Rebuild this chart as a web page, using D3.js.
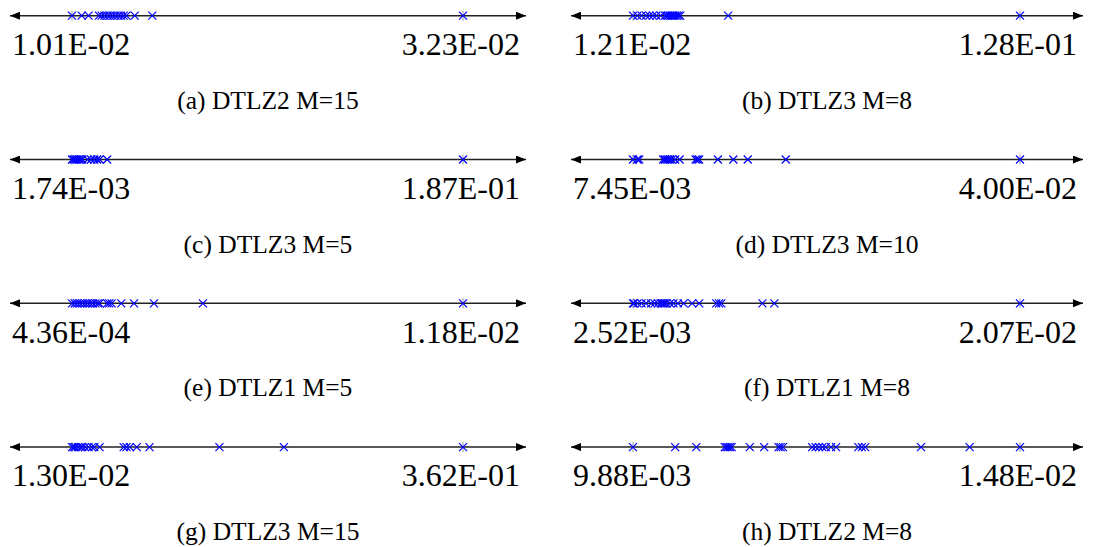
<!DOCTYPE html>
<html>
<head>
<meta charset="utf-8">
<script src="https://cdn.jsdelivr.net/npm/d3@7"></script>
<style>
  html, body { margin: 0; padding: 0; background: #fff; }
  svg { display: block; }
  text { font-family: "Liberation Serif", "Times New Roman", "DejaVu Serif", serif; fill: #000; }
</style>
</head>
<body>
<svg id="chart" width="1093" height="547"></svg>
<script>
// Panel captions, in reading order (left column, right column, row by row)
const captions = [
  "(a) DTLZ2 M=15", "(b) DTLZ3 M=8",
  "(c) DTLZ3 M=5",  "(d) DTLZ3 M=10",
  "(e) DTLZ1 M=5",  "(f) DTLZ1 M=8",
  "(g) DTLZ3 M=15", "(h) DTLZ2 M=8"
];

// Minimum and maximum of each run set (end labels of each line)
const lows  = [1.01e-2, 1.21e-2, 1.74e-3, 7.45e-3, 4.36e-4, 2.52e-3, 1.30e-2, 9.88e-3];
const highs = [3.23e-2, 1.28e-1, 1.87e-1, 4.00e-2, 1.18e-2, 2.07e-2, 3.62e-1, 1.48e-2];

// Per-run indicator values
const dtlz2M15 = [0.01010, 0.01065, 0.01104, 0.01163, 0.01178, 0.01194, 0.01210, 0.01225,
  0.01241, 0.01256, 0.01272, 0.01288, 0.01303, 0.01319, 0.01366, 0.01466, 0.0323];
const dtlz3M8 = [0.0121, 0.01343, 0.01466, 0.0160, 0.01702, 0.01805, 0.01908, 0.02041,
  0.02164, 0.02215, 0.02266, 0.02318, 0.02369, 0.0242, 0.02472, 0.02523, 0.02574,
  0.02625, 0.04061, 0.128];
const dtlz3M5 = [0.00174, 0.00256, 0.00337, 0.00419, 0.00500, 0.00582, 0.00664, 0.00908,
  0.01072, 0.01235, 0.01366, 0.0148, 0.01839, 0.187];
const dtlz3M10 = [0.00745, 0.00782, 0.00797, 0.00999, 0.01013, 0.01027, 0.01042, 0.01056,
  0.01071, 0.01099, 0.01137, 0.01272, 0.01287, 0.01301, 0.01459, 0.01589, 0.0171,
  0.0203, 0.0400];
const dtlz1M5 = [0.000436, 0.000516, 0.000586, 0.000666, 0.000736, 0.000816, 0.000887,
  0.000957, 0.001037, 0.001117, 0.001187, 0.001237, 0.001457, 0.001517, 0.001587,
  0.001868, 0.002238, 0.002819, 0.004241, 0.0118];
const dtlz1M8 = [0.00252, 0.00257, 0.00273, 0.00292, 0.00313, 0.00337, 0.00353, 0.00369,
  0.00382, 0.00389, 0.00395, 0.00402, 0.0041, 0.00426, 0.00442, 0.00463, 0.0049,
  0.0053, 0.00563, 0.00643, 0.00656, 0.00667, 0.0086, 0.00916, 0.0207];
const dtlz3M15 = [0.013, 0.01454, 0.01607, 0.01853, 0.02069, 0.02222, 0.02468, 0.02776,
  0.03083, 0.03299, 0.0376, 0.05912, 0.06158, 0.06466, 0.07081, 0.08219, 0.1446,
  0.2021, 0.362];
const dtlz2M8 = [0.00988, 0.010416, 0.010685, 0.011047, 0.011069, 0.01109, 0.011112,
  0.011134, 0.011365, 0.011548, 0.01173, 0.011757, 0.011787, 0.012157, 0.012201,
  0.012244, 0.012288, 0.012331, 0.012397, 0.012462, 0.012745, 0.012789, 0.012832,
  0.013542, 0.01416, 0.0148];

const series = [dtlz2M15, dtlz3M8, dtlz3M5, dtlz3M10, dtlz1M5, dtlz1M8, dtlz3M15, dtlz2M8];

// "1.01E-02" style scientific labels
function sci(v) {
  const [m, e] = v.toExponential(2).split("e");
  const n = parseInt(e, 10);
  return m + "E" + (n < 0 ? "-" : "+") + String(Math.abs(n)).padStart(2, "0");
}

const svg = d3.select("#chart");

// Arrowheads for both ends of each number line
const defs = svg.append("defs");
defs.append("marker")
  .attr("id", "arrowEnd").attr("viewBox", "0 0 10 8")
  .attr("refX", 10).attr("refY", 4)
  .attr("markerUnits", "userSpaceOnUse")
  .attr("markerWidth", 11).attr("markerHeight", 8)
  .attr("orient", "auto")
  .append("path").attr("d", "M0,0L10,4L0,8Z").attr("fill", "#000");
defs.append("marker")
  .attr("id", "arrowStart").attr("viewBox", "0 0 10 8")
  .attr("refX", 0).attr("refY", 4)
  .attr("markerUnits", "userSpaceOnUse")
  .attr("markerWidth", 11).attr("markerHeight", 8)
  .attr("orient", "auto")
  .append("path").attr("d", "M10,0L0,4L10,8Z").attr("fill", "#000");

const colLeft  = [10, 571];
const colRight = [526, 1083];
const rowY0 = 15.7, rowStep = 143.8;

series.forEach((vals, i) => {
  const col = i % 2, row = Math.floor(i / 2);
  const x0 = colLeft[col], x1 = colRight[col];
  const y = rowY0 + row * rowStep;
  const x = d3.scaleLinear().domain([lows[i], highs[i]]).range([x0 + 62, x1 - 63]);

  const g = svg.append("g").attr("class", "panel");

  g.append("line")
    .attr("x1", x0).attr("x2", x1).attr("y1", y).attr("y2", y)
    .attr("stroke", "#222").attr("stroke-width", 1.5)
    .attr("marker-start", "url(#arrowStart)")
    .attr("marker-end", "url(#arrowEnd)");

  // tick marks at the two extremes
  g.selectAll("line.tick").data([lows[i], highs[i]]).join("line")
    .attr("class", "tick")
    .attr("x1", d => x(d)).attr("x2", d => x(d))
    .attr("y1", y - 5).attr("y2", y + 5)
    .attr("stroke", "#999").attr("stroke-width", 1);

  g.selectAll("path.run").data(vals).join("path")
    .attr("class", "run")
    .attr("transform", d => `translate(${x(d)},${y})`)
    .attr("d", "M-4,-4L4,4M-4,4L4,-4")
    .attr("fill", "none").attr("stroke", "#0000ff").attr("stroke-width", 1.2);

  g.append("text")
    .attr("x", x0 + 2).attr("y", y + 39.3)
    .attr("font-size", 32).attr("text-anchor", "start")
    .text(sci(lows[i]));
  g.append("text")
    .attr("x", x1 - 6).attr("y", y + 39.3)
    .attr("font-size", 32).attr("text-anchor", "end")
    .text(sci(highs[i]));

  g.append("text")
    .attr("x", (x0 + x1) / 2).attr("y", y + 93)
    .attr("font-size", 25.5).attr("text-anchor", "middle")
    .text(captions[i]);
});
</script>
</body>
</html>
